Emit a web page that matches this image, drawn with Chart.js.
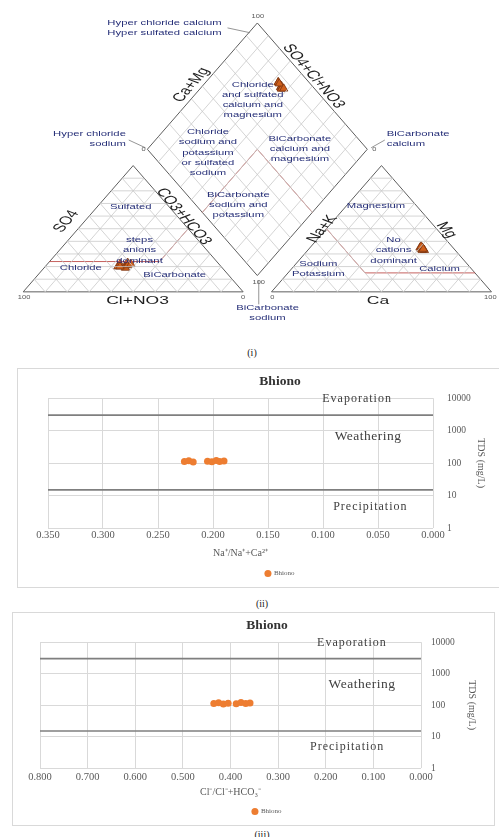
<!DOCTYPE html>
<html>
<head>
<meta charset="utf-8">
<script src="https://cdn.jsdelivr.net/npm/chart.js@4.4.1/dist/chart.umd.min.js"></script>
<style>
  html, body { margin: 0; padding: 0; background: #fff; width: 499px; height: 837px; overflow: hidden; position: relative; }
  .wrap { position: absolute; }
  .frame { position: absolute; border: 1px solid #d9d9d9; box-sizing: border-box; background: #fff; }
  .cap { position: absolute; font-family: "Liberation Serif", serif; font-size: 10px; color: #222; transform: translate(-50%, -50%); }
</style>
</head>
<body>
<div class="wrap" style="left:0;top:0;width:499px;height:340px"><canvas id="piper"></canvas></div>
<div class="cap" style="left:252px;top:352px">(i)</div>
<div class="frame" style="left:17px;top:368px;width:496px;height:220px"><canvas id="gibbsNa"></canvas></div>
<div class="cap" style="left:262px;top:603px">(ii)</div>
<div class="frame" style="left:12px;top:612px;width:483px;height:214px"><canvas id="gibbsCl"></canvas></div>
<div class="cap" style="left:262px;top:834px">(iii)</div>

<script>
// ---- Piper data, meq % per sample ----
const cationCa  = [52, 51, 50, 53, 51, 52, 50, 52];
const cationMg  = [34, 35, 35, 33, 34, 33, 36, 34];
const cationNaK = [14, 14, 15, 14, 15, 15, 14, 14];
const anionCl   = [47, 45, 43, 41, 44, 42, 46, 40];
const anionSO4  = [20, 22, 21, 23, 19, 21, 20, 22];
const anionHCO3 = [33, 33, 36, 36, 37, 37, 34, 38];

// facies boundaries (percent)
const cationFacies  = [[50, 50, 0], [50, 15, 35], [0, 15, 85]];   // Na+K, Mg, Ca
const anionFacies   = [[0, 50, 50], [26, 24, 50], [76, 24, 0]];   // Cl, SO4, HCO3
const diamondFacies = [[50, 0], [50, 50], [0, 50]];               // SO4+Cl, Ca+Mg
const gridSteps = [10, 20, 30, 40, 50, 60, 70, 80, 90];

// ---- Gibbs data ----
const seriesName = "Bhiono";
const tds     = [112, 118, 108, 115, 110, 120, 113, 116];
const naRatio = [0.226, 0.222, 0.218, 0.205, 0.201, 0.197, 0.194, 0.190];
const clRatio = [0.435, 0.425, 0.415, 0.405, 0.388, 0.378, 0.368, 0.359];
const tdsTicks = [1, 10, 100, 1000, 10000];
const gibbsBounds = [3000, 15];

// ---------- Piper geometry (triangle side = 100) ----------
const GAP = 12.9;
const TH = 86.6;
const CX0 = 100 + GAP;
const BREAK = { x: NaN, y: NaN };

const anionPt = (cl, so4, hco3) => ({ x: hco3 + so4 / 2, y: so4 * TH / 100 });
const cationPt = (nak, mg, ca) => ({ x: CX0 + ca + mg / 2, y: mg * TH / 100 });
const diamondPt = (an, cat) => ({
  x: 100 + GAP / 2 + (cat - an) / 2,
  y: GAP * TH / 100 + (an + cat) * TH / 100
});

const gridPts = [];
const seg = (a, b) => gridPts.push(a, b, BREAK);
gridSteps.forEach(k => {
  seg(anionPt(100 - k, k, 0), anionPt(0, k, 100 - k));
  seg(anionPt(100 - k, 0, k), anionPt(0, 100 - k, k));
  seg(anionPt(k, 100 - k, 0), anionPt(k, 0, 100 - k));
  seg(cationPt(100 - k, k, 0), cationPt(0, k, 100 - k));
  seg(cationPt(100 - k, 0, k), cationPt(0, 100 - k, k));
  seg(cationPt(k, 100 - k, 0), cationPt(k, 0, 100 - k));
  seg(diamondPt(k, 0), diamondPt(k, 100));
  seg(diamondPt(0, k), diamondPt(100, k));
});

const outlinePts = [
  anionPt(100, 0, 0), anionPt(0, 0, 100), anionPt(0, 100, 0), anionPt(100, 0, 0), BREAK,
  cationPt(100, 0, 0), cationPt(0, 0, 100), cationPt(0, 100, 0), cationPt(100, 0, 0), BREAK,
  diamondPt(0, 0), diamondPt(100, 0), diamondPt(100, 100), diamondPt(0, 100), diamondPt(0, 0)
];

const faciesPts = [
  ...cationFacies.map(p => cationPt(...p)), BREAK,
  ...anionFacies.map(p => anionPt(...p)), BREAK,
  ...diamondFacies.map(p => diamondPt(...p))
];

const samplePts = [
  ...anionCl.map((c, i) => anionPt(c, anionSO4[i], anionHCO3[i])),
  ...cationCa.map((c, i) => cationPt(cationNaK[i], cationMg[i], c)),
  ...anionCl.map((c, i) => diamondPt(c + anionSO4[i], cationCa[i] + cationMg[i]))
];

// labels of the Piper plot, in diagram units
const regionLabels = [
  { t: ["Chloride", "and sulfated", "calcium and", "magnesium"], u: 104.4, v: 131.6 },
  { t: ["Chloride", "sodium and", "potassium", "or sulfated", "sodium"], u: 84.0, v: 95.5 },
  { t: ["BiCarbonate", "calcium and", "magnesium"], u: 125.8, v: 98.1 },
  { t: ["BiCarbonate", "sodium and", "potassium"], u: 97.8, v: 59.7 },
  { t: ["Sulfated"], u: 48.9, v: 58.4 },
  { t: ["steps", "anions", "dominant"], u: 52.9, v: 28.5 },
  { t: ["Chloride"], u: 26.2, v: 16.6 },
  { t: ["BiCarbonate"], u: 68.9, v: 11.9 },
  { t: ["Magnesium"], u: 160.4, v: 59.0 },
  { t: ["No", "cations", "dominant"], u: 168.4, v: 28.5 },
  { t: ["Sodium", "Potassium"], u: 134.2, v: 15.9 },
  { t: ["Calcium"], u: 189.3, v: 15.9 },
  { t: ["Hyper chloride calcium", "Hyper sulfated calcium"], u: 90.2, v: 181.0, a: "right" },
  { t: ["Hyper chloride", "sodium"], u: 46.7, v: 105.1, a: "right" },
  { t: ["BiCarbonate", "calcium"], u: 165.3, v: 105.1, a: "left" },
  { t: ["BiCarbonate", "sodium"], u: 111.1, v: -14.6 }
];
const axisLabels = [
  { t: "Ca+Mg", u: 76.4, v: 141.9, r: -60 },
  { t: "SO4+Cl+NO3", u: 132.0, v: 147.9, r: 60 },
  { t: "SO4", u: 19.6, v: 48.4, r: -60 },
  { t: "CO3+HCO3", u: 72.9, v: 51.7, r: 60 },
  { t: "Cl+NO3", u: 52.0, v: -6.0, r: 0 },
  { t: "Na+K", u: 136.0, v: 43.1, r: -60 },
  { t: "Mg", u: 192.4, v: 42.4, r: 60 },
  { t: "Ca", u: 161.3, v: -6.0, r: 0 }
];
const smallNums = [
  { t: "100", u: 106.7, v: 189.0 }, { t: "0", u: 54.7, v: 97.5 }, { t: "0", u: 159.6, v: 97.5 },
  { t: "100", u: 107.1, v: 6.0 }, { t: "100", u: 0.4, v: -4.0 }, { t: "0", u: 100, v: -4.0 },
  { t: "0", u: 113.3, v: -4.0 }, { t: "100", u: 212.4, v: -4.0 }
];
const leaders = [
  [92.9, 181.0, 103.1, 177.7], [48.0, 104.1, 55.6, 98.8],
  [158.2, 98.8, 164.4, 104.1], [107.1, 8.0, 107.1, -8.6]
];

const sans = "'Liberation Sans', Arial, sans-serif";

const piperText = {
  id: "piperText",
  afterDatasetsDraw(chart) {
    const { ctx, scales: { x, y } } = chart;
    const P = (u, v) => [x.getPixelForValue(u), y.getPixelForValue(v)];
    // the drawing is squashed vertically; text follows the same squash
    const k = Math.abs(y.getPixelForValue(100) - y.getPixelForValue(0)) /
              Math.abs(x.getPixelForValue(100) - x.getPixelForValue(0));
    ctx.save();
    ctx.textBaseline = "middle";

    ctx.strokeStyle = "#7a7a7a";
    ctx.lineWidth = 0.8;
    leaders.forEach(([u1, v1, u2, v2]) => {
      const [a, b] = P(u1, v1), [c, d] = P(u2, v2);
      ctx.beginPath(); ctx.moveTo(a, b); ctx.lineTo(c, d); ctx.stroke();
    });

    const put = (lines, u, v, lh, rot) => {
      const [px, py] = P(u, v);
      ctx.save();
      ctx.translate(px, py);
      ctx.scale(1, k);
      ctx.rotate(rot * Math.PI / 180);
      lines.forEach((s, i) => ctx.fillText(s, 0, (i - (lines.length - 1) / 2) * lh));
      ctx.restore();
    };

    ctx.font = "11.3px " + sans;
    ctx.fillStyle = "#262f78";
    regionLabels.forEach(lb => {
      ctx.textAlign = lb.a || "center";
      put(lb.t, lb.u, lb.v, 15.4, 0);
    });

    ctx.font = "17.5px " + sans;
    ctx.fillStyle = "#1e1e1e";
    ctx.textAlign = "center";
    axisLabels.forEach(lb => put([lb.t], lb.u, lb.v, 0, lb.r));

    ctx.font = "7.5px " + sans;
    ctx.fillStyle = "#555";
    smallNums.forEach(lb => put([lb.t], lb.u, lb.v, 0, 0));
    ctx.restore();
  }
};

new Chart(document.getElementById("piper"), {
  type: "scatter",
  data: {
    datasets: [
      { data: gridPts, showLine: true, borderColor: "#c9c9c9", borderWidth: 0.8, pointRadius: 0, pointHoverRadius: 0 },
      { data: faciesPts, showLine: true, borderColor: "#c0504d", borderWidth: 0.9, pointRadius: 0, pointHoverRadius: 0 },
      { data: outlinePts, showLine: true, borderColor: "#5e5e5e", borderWidth: 1, pointRadius: 0, pointHoverRadius: 0 },
      {
        data: samplePts, pointStyle: "triangle", pointRadius: 4.8,
        backgroundColor: "#d0601c", borderColor: "#7a3310", borderWidth: 0.8
      }
    ]
  },
  options: {
    responsive: true,
    maintainAspectRatio: false,
    animation: false,
    layout: { padding: 0 },
    plugins: { legend: { display: false }, tooltip: { enabled: false } },
    scales: {
      x: { type: "linear", display: false, min: -8, max: 213.78 },
      y: { type: "linear", display: false, min: -29.18, max: 196.29 }
    }
  },
  plugins: [piperText]
});

// ---------- Gibbs plots ----------
const serif = "'Liberation Serif', 'Times New Roman', serif";

function zonePlugin(items) {
  return {
    id: "zones",
    afterDatasetsDraw(chart) {
      const { ctx, scales: { x, y } } = chart;
      ctx.save();
      ctx.fillStyle = "#404040";
      ctx.textAlign = "center";
      ctx.textBaseline = "middle";
      items.forEach(it => {
        ctx.font = it.size + "px " + serif;
        ctx.letterSpacing = it.sp + "px";
        ctx.fillText(it.t, x.getPixelForValue(it.x), y.getPixelForValue(it.y));
      });
      ctx.restore();
    }
  };
}

function makeGibbs(id, ratio, xMax, step, xTitle, lay, zones) {
  const bounds = gibbsBounds.map(b => ({
    label: "", data: [{ x: 0, y: b }, { x: xMax, y: b }], showLine: true,
    borderColor: "#7f7f7f", borderWidth: 1.6, pointRadius: 0, pointHoverRadius: 0
  }));
  return new Chart(document.getElementById(id), {
    type: "scatter",
    data: {
      datasets: [
        ...bounds,
        {
          label: seriesName,
          data: ratio.map((r, i) => ({ x: r, y: tds[i] })),
          pointStyle: "circle", pointRadius: 3.5,
          backgroundColor: "#ED7D31", borderColor: "#ED7D31", borderWidth: 0
        }
      ]
    },
    options: {
      responsive: true,
      maintainAspectRatio: false,
      animation: false,
      layout: { padding: { left: lay.left, right: 0, top: 0, bottom: 0 } },
      plugins: {
        tooltip: { enabled: false },
        title: {
          display: true, text: seriesName, color: "#333",
          font: { family: serif, size: 13.5, weight: "bold" },
          padding: { top: 4, bottom: 9 }
        },
        legend: {
          position: "bottom",
          labels: {
            usePointStyle: true, pointStyle: "circle", boxWidth: 5, boxHeight: 5,
            padding: lay.legPad, color: "#595959", font: { family: serif, size: 7 },
            filter: item => item.text === seriesName
          }
        }
      },
      scales: {
        x: {
          type: "linear", reverse: true, min: 0, max: xMax,
          ticks: {
            stepSize: step, autoSkip: false, maxRotation: 0, padding: lay.xTickPad,
            color: "#595959", font: { family: serif, size: 10.5 },
            callback: v => Number(v).toFixed(3)
          },
          grid: { color: "#d9d9d9", drawTicks: false },
          border: { display: false },
          title: {
            display: true, text: xTitle, color: "#595959",
            font: { family: serif, size: 10 }, padding: { top: 0, bottom: lay.xTitlePad }
          },
          afterFit: s => { s.height = 34; }
        },
        y: {
          type: "logarithmic", position: "right", min: 1, max: 10000,
          afterBuildTicks: s => { s.ticks = tdsTicks.map(v => ({ value: v })); },
          ticks: {
            padding: lay.yTickPad, color: "#595959", font: { family: serif, size: 9.5 },
            callback: v => String(v)
          },
          grid: { color: "#d9d9d9", drawTicks: false },
          border: { display: false },
          title: {
            display: true, text: "TDS (mg/L)", color: "#595959",
            font: { family: serif, size: 10 }, padding: { top: lay.yTitlePad, bottom: 0 }
          },
          afterFit: s => { s.width = lay.yW; }
        }
      }
    },
    plugins: [zonePlugin(zones)]
  });
}

makeGibbs("gibbsNa", naRatio, 0.35, 0.05, "Na\u207A/Na\u207A+Ca\u00B2\u207A",
  { left: 30, legPad: 8, xTickPad: 1, xTitlePad: 3, yTickPad: 14, yTitlePad: 25, yW: 79 },
  [
    { t: "Evaporation", x: 0.069, y: 9700, size: 12, sp: 1 },
    { t: "Weathering", x: 0.059, y: 665, size: 13.5, sp: 0.5 },
    { t: "Precipitation", x: 0.057, y: 4.4, size: 12, sp: 1 }
  ]);

makeGibbs("gibbsCl", clRatio, 0.8, 0.1, "Cl\u207B/Cl\u207B+HCO\u2083\u207B",
  { left: 27, legPad: 6, xTickPad: 3, xTitlePad: 4, yTickPad: 10, yTitlePad: 16, yW: 73 },
  [
    { t: "Evaporation", x: 0.145, y: 9700, size: 12, sp: 1 },
    { t: "Weathering", x: 0.124, y: 465, size: 13.5, sp: 0.5 },
    { t: "Precipitation", x: 0.155, y: 4.6, size: 12, sp: 1 }
  ]);
</script>
</body>
</html>
